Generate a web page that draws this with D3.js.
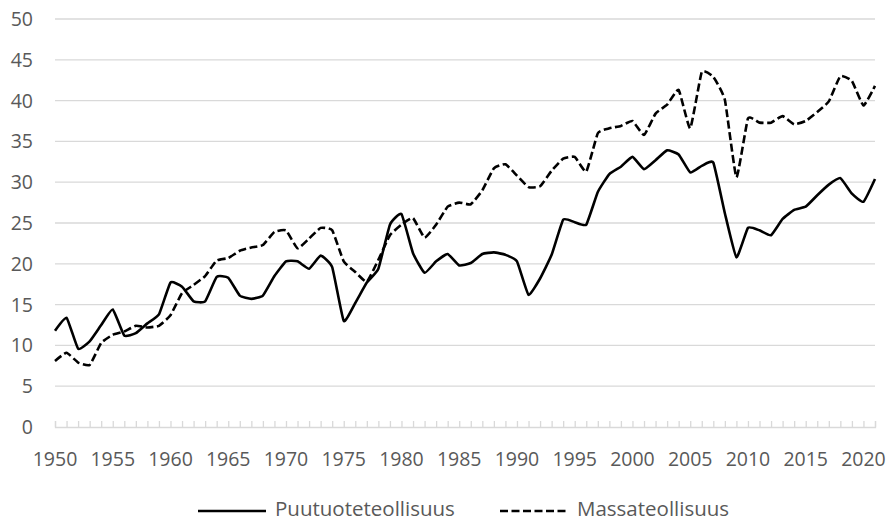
<!DOCTYPE html>
<html>
<head>
<meta charset="utf-8">
<script src="https://cdn.jsdelivr.net/npm/d3@7"></script>
<style>
  body { margin: 0; background: #fff; }
  text { font-family: "Open Sans", sans-serif; fill: #595959; }
</style>
</head>
<body>
<div id="chart"></div>
<script>
// Years 1950-2021
var years = d3.range(1950, 2022);

// Puutuoteteollisuus (solid)
var puutuote = [
  11.8, 13.4, 9.6, 10.5, 12.5, 14.4, 11.2, 11.5, 12.7, 13.8,
  17.7, 17.2, 15.4, 15.4, 18.4, 18.3, 16.1, 15.7, 16.1, 18.5,
  20.3, 20.3, 19.4, 21.0, 19.6, 13.0, 15.2, 17.7, 19.4, 24.8,
  26.1, 21.3, 18.9, 20.3, 21.2, 19.8, 20.1, 21.2, 21.4, 21.1,
  20.3, 16.2, 18.2, 21.1, 25.4, 25.1, 24.8, 28.8, 31.0, 31.9,
  33.1, 31.6, 32.7, 33.9, 33.4, 31.2, 32.0, 32.4, 26.2, 20.8,
  24.4, 24.1, 23.5, 25.5, 26.6, 27.0, 28.4, 29.7, 30.5, 28.6,
  27.6, 30.4
];

// Massateollisuus (dashed)
var massa = [
  8.1, 9.1, 7.9, 7.6, 10.3, 11.3, 11.7, 12.4, 12.2, 12.4,
  13.7, 16.4, 17.4, 18.5, 20.4, 20.7, 21.6, 22.0, 22.3, 23.9,
  24.1, 21.9, 23.1, 24.4, 24.1, 20.3, 19.0, 17.8, 20.5, 23.5,
  24.8, 25.6, 23.2, 24.8, 27.0, 27.5, 27.3, 29.0, 31.7, 32.2,
  30.8, 29.4, 29.5, 31.4, 32.9, 33.1, 31.3, 36.0, 36.6, 36.9,
  37.5, 35.8, 38.4, 39.5, 41.3, 36.6, 43.5, 42.9, 40.1, 30.6,
  37.8, 37.3, 37.3, 38.1, 37.1, 37.5, 38.6, 39.9, 43.0, 42.4,
  39.4, 41.8
];

var yTicks = [0, 5, 10, 15, 20, 25, 30, 35, 40, 45, 50];
var xLabelYears = d3.range(1950, 2022, 5);
var seriesNames = ["Puutuoteteollisuus", "Massateollisuus"];

var svgWidth = 889;
var svgHeight = 522;

var svg = d3.select("#chart")
  .append("svg")
  .attr("width", svgWidth)
  .attr("height", svgHeight);

// plot area
var x = d3.scaleLinear().domain([1950, 2021]).range([55, 875]);
var y = d3.scaleLinear().domain([0, 50]).range([427, 19]);

// gridlines
svg.append("g")
  .selectAll("line")
  .data(yTicks.filter(function (d) { return d > 0; }))
  .enter()
  .append("line")
  .attr("x1", 55)
  .attr("x2", 875)
  .attr("y1", function (d) { return y(d); })
  .attr("y2", function (d) { return y(d); })
  .attr("stroke", "#d9d9d9")
  .attr("stroke-width", 1.3);

// y labels
svg.append("g")
  .selectAll("text")
  .data(yTicks)
  .enter()
  .append("text")
  .attr("x", 33)
  .attr("y", function (d) { return y(d); })
  .attr("dy", "0.36em")
  .attr("text-anchor", "end")
  .style("font-size", "19.5px")
  .text(function (d) { return d; });

// x axis line with inward ticks at every year
var xAxis = d3.axisBottom(x)
  .tickValues(years)
  .tickSize(-6)
  .tickFormat("");

var xAxisG = svg.append("g")
  .attr("transform", "translate(0," + y(0) + ")")
  .call(xAxis);
xAxisG.select(".domain").attr("stroke", "#d9d9d9").attr("stroke-width", 1.3);
xAxisG.selectAll(".tick line").attr("stroke", "#d9d9d9").attr("stroke-width", 1.3);

// x labels every 5 years
svg.append("g")
  .selectAll("text")
  .data(xLabelYears)
  .enter()
  .append("text")
  .attr("x", function (d) { return x(d); })
  .attr("y", 466)
  .attr("text-anchor", "middle")
  .style("font-size", "19.5px")
  .text(function (d) { return d; });

// lines (light smoothing, like the spreadsheet original)
var line = d3.line()
  .x(function (d, i) { return x(years[i]); })
  .y(function (d) { return y(d); })
  .curve(d3.curveCardinal.tension(0.6));

svg.append("path")
  .datum(puutuote)
  .attr("d", line)
  .attr("fill", "none")
  .attr("stroke", "#000")
  .attr("stroke-width", 2.6)
  .attr("stroke-linejoin", "round");

svg.append("path")
  .datum(massa)
  .attr("d", line)
  .attr("fill", "none")
  .attr("stroke", "#000")
  .attr("stroke-width", 2.6)
  .attr("stroke-dasharray", "8,3.5");

// legend
var legend = svg.append("g");
var legendItems = [
  { name: seriesNames[0], x0: 198, dash: null },
  { name: seriesNames[1], x0: 500, dash: "8,3.5" }
];

legendItems.forEach(function (item) {
  legend.append("line")
    .attr("x1", item.x0)
    .attr("x2", item.x0 + 68)
    .attr("y1", 511)
    .attr("y2", 511)
    .attr("stroke", "#000")
    .attr("stroke-width", 2.6)
    .attr("stroke-dasharray", item.dash);

  legend.append("text")
    .attr("x", item.x0 + 77)
    .attr("y", 516)
    .style("font-size", "20.5px")
    .text(item.name);
});
</script>
</body>
</html>
